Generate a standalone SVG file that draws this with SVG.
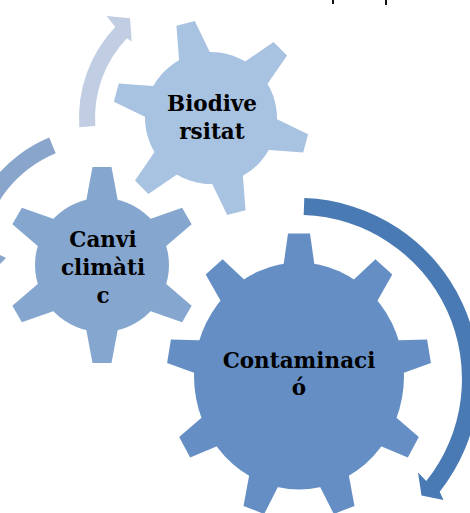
<svg xmlns="http://www.w3.org/2000/svg" xmlns:xlink="http://www.w3.org/1999/xlink" width="470" height="513" viewBox="0 0 470 513">
<style>
.lbl{font-family:"DejaVu Serif","Liberation Serif",serif;font-weight:bold;font-size:21.5px;fill:#000;text-anchor:middle}
.g1{fill:#658fc4}
.g2{fill:#85a6cf}
.g3{fill:#a8c2e1}
</style>
<defs>
<polygon id="t9" points="-11,-132 11,-132 16.5,-96 -16.5,-96"/>
<polygon id="t6" points="-9.5,-98 9.5,-98 17,-58 -17,-58"/>
</defs>
<rect width="470" height="513" fill="#fff"/>
<g id="top-fragments" fill="#111">
<rect x="332" y="0" width="2" height="4"/>
<rect x="385" y="0" width="2" height="5"/>
</g>
<g id="connectors">
<path fill="#4a7ab4" d="M304.3,198.1 A181,181 0 0 1 439.7,491.7 L443.5,500 L421.5,495.5 L418,472.5 L426.3,481.1 A164,164 0 0 0 303.7,215.1 Z"/>
<path fill="#8aa5cc" d="M49.2,137.5 A138,138 0 0 0 -34.3,243.4 L-50,249 L-20,284 L6,258 L-17.5,246.1 A121,121 0 0 1 55.7,153.2 Z"/>
<path fill="#c0cde2" d="M79.3,127.2 A132,132 0 0 1 115.25,27.1 L106.7,16 L130,18.3 L131.7,41.5 L126.85,38.15 A116,116 0 0 0 95.3,126.1 Z"/>
</g>
<g id="contaminacio">
<g class="g1" transform="translate(299,376) scale(1,1.08)">
<circle r="105"/>
<use xlink:href="#t9"/>
<use xlink:href="#t9" transform="rotate(40)"/>
<use xlink:href="#t9" transform="rotate(80)"/>
<use xlink:href="#t9" transform="rotate(120)"/>
<use xlink:href="#t9" transform="rotate(160)"/>
<use xlink:href="#t9" transform="rotate(200)"/>
<use xlink:href="#t9" transform="rotate(240)"/>
<use xlink:href="#t9" transform="rotate(280)"/>
<use xlink:href="#t9" transform="rotate(320)"/>
</g>
<text class="lbl" x="299" y="368">Contaminaci</text>
<text class="lbl" x="299" y="395">ó</text>
</g>
<g id="canvi-climatic">
<g class="g2" transform="translate(102,265)">
<circle r="67"/>
<use xlink:href="#t6"/>
<use xlink:href="#t6" transform="rotate(60)"/>
<use xlink:href="#t6" transform="rotate(120)"/>
<use xlink:href="#t6" transform="rotate(180)"/>
<use xlink:href="#t6" transform="rotate(240)"/>
<use xlink:href="#t6" transform="rotate(300)"/>
</g>
<text class="lbl" x="103" y="247">Canvi</text>
<text class="lbl" x="103" y="275">climàti</text>
<text class="lbl" x="103" y="303">c</text>
</g>
<g id="biodiversitat">
<g class="g3" transform="translate(211,118) rotate(-15)">
<circle r="66"/>
<use xlink:href="#t6"/>
<use xlink:href="#t6" transform="rotate(60)"/>
<use xlink:href="#t6" transform="rotate(120)"/>
<use xlink:href="#t6" transform="rotate(180)"/>
<use xlink:href="#t6" transform="rotate(240)"/>
<use xlink:href="#t6" transform="rotate(300)"/>
</g>
<text class="lbl" x="212" y="111">Biodive</text>
<text class="lbl" x="212" y="138.5">rsitat</text>
</g>
</svg>
